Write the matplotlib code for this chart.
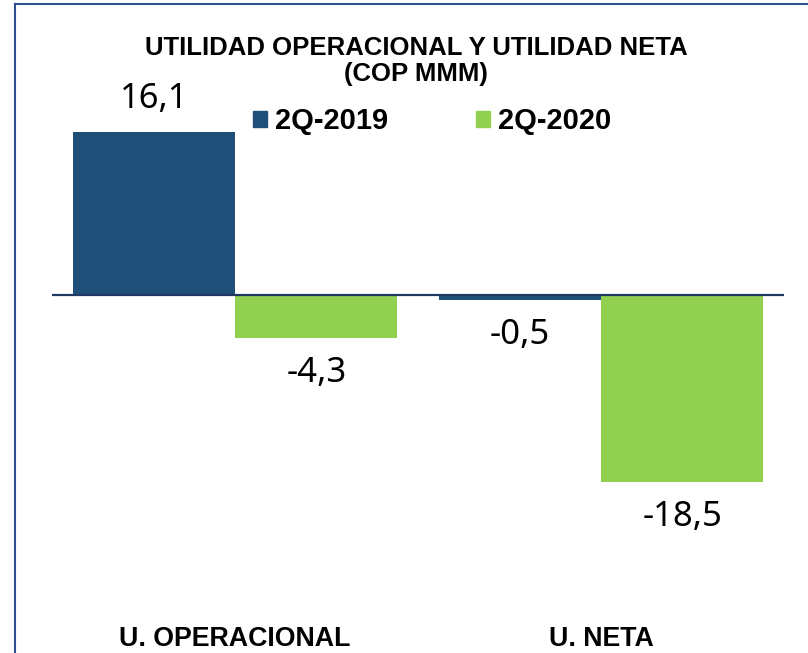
import matplotlib
matplotlib.use("Agg")
import matplotlib.pyplot as plt
from matplotlib.patches import Patch
from matplotlib.lines import Line2D

# data
categories = ["U. OPERACIONAL", "U. NETA"]
series_names = ["2Q-2019", "2Q-2020"]
values_2019 = [16.1, -0.5]
values_2020 = [-4.3, -18.5]

color_2019 = "#1F4E79"
color_2020 = "#92D050"
frame_color = "#2F4F8F"

plt.rcParams["font.family"] = ["Noto Sans", "DejaVu Sans"]
bold_font = ["Liberation Sans", "DejaVu Sans"]

W, H = 808, 653
fig = plt.figure(figsize=(W / 100, H / 100), dpi=100)


def px(x, y):
    # pixel coords (top-left origin) -> figure fraction
    return x / W, 1 - y / H


# axes: left edge 52px, right 784px, top 100px, bottom 600px
ax = fig.add_axes([52 / W, 53 / H, 732 / W, 500 / H])

width = 0.443
offset = 0.222
x = list(range(len(categories)))
bars_19 = ax.bar([i - offset for i in x], values_2019, width, color=color_2019)
bars_20 = ax.bar([i + offset for i in x], values_2020, width, color=color_2020)

ax.set_xlim(-0.5, 1.5)
ax.set_ylim(-30.2, 19.31)
ax.axhline(0, color="#1F3864", lw=1.6, zorder=3)

# value labels outside bar ends
for bars, vals in [(bars_19, values_2019), (bars_20, values_2020)]:
    for b, v in zip(bars, vals):
        dy = 24 if v >= 0 else -25
        ax.annotate(f"{v:.1f}".replace(".", ","),
                    (b.get_x() + b.get_width() / 2, v),
                    xytext=(0, dy), textcoords="offset points",
                    ha="center", va="center", fontsize=25, color="black")

ax.set_xticks(x)
ax.set_xticklabels(categories, fontsize=19.3, fontweight="bold", family=bold_font)
ax.tick_params(axis="x", length=0, pad=19)
ax.set_yticks([])
for s in ax.spines.values():
    s.set_visible(False)

# title
fig.text(*px(416, 61), "UTILIDAD OPERACIONAL Y UTILIDAD NETA\n(COP MMM)",
         ha="center", va="center", fontsize=18.5, fontweight="bold",
         family=bold_font, linespacing=1.1)

# legend
handles = [Patch(color=color_2019), Patch(color=color_2020)]
fig.legend(handles, series_names, loc="center", bbox_to_anchor=px(432, 121),
           ncol=2, frameon=False, handlelength=0.48, handleheight=0.48,
           handletextpad=0.28, columnspacing=3.0,
           prop={"size": 21, "weight": "bold", "family": bold_font})

# outer frame (only left and top edges are visible in the crop)
fig.add_artist(Line2D([15 / W, 15 / W], [0, 1 - 4 / H], color=frame_color, lw=1.5))
fig.add_artist(Line2D([15 / W, 1], [1 - 4 / H, 1 - 4 / H], color=frame_color, lw=1.5))

fig.savefig("out.png", dpi=100)
